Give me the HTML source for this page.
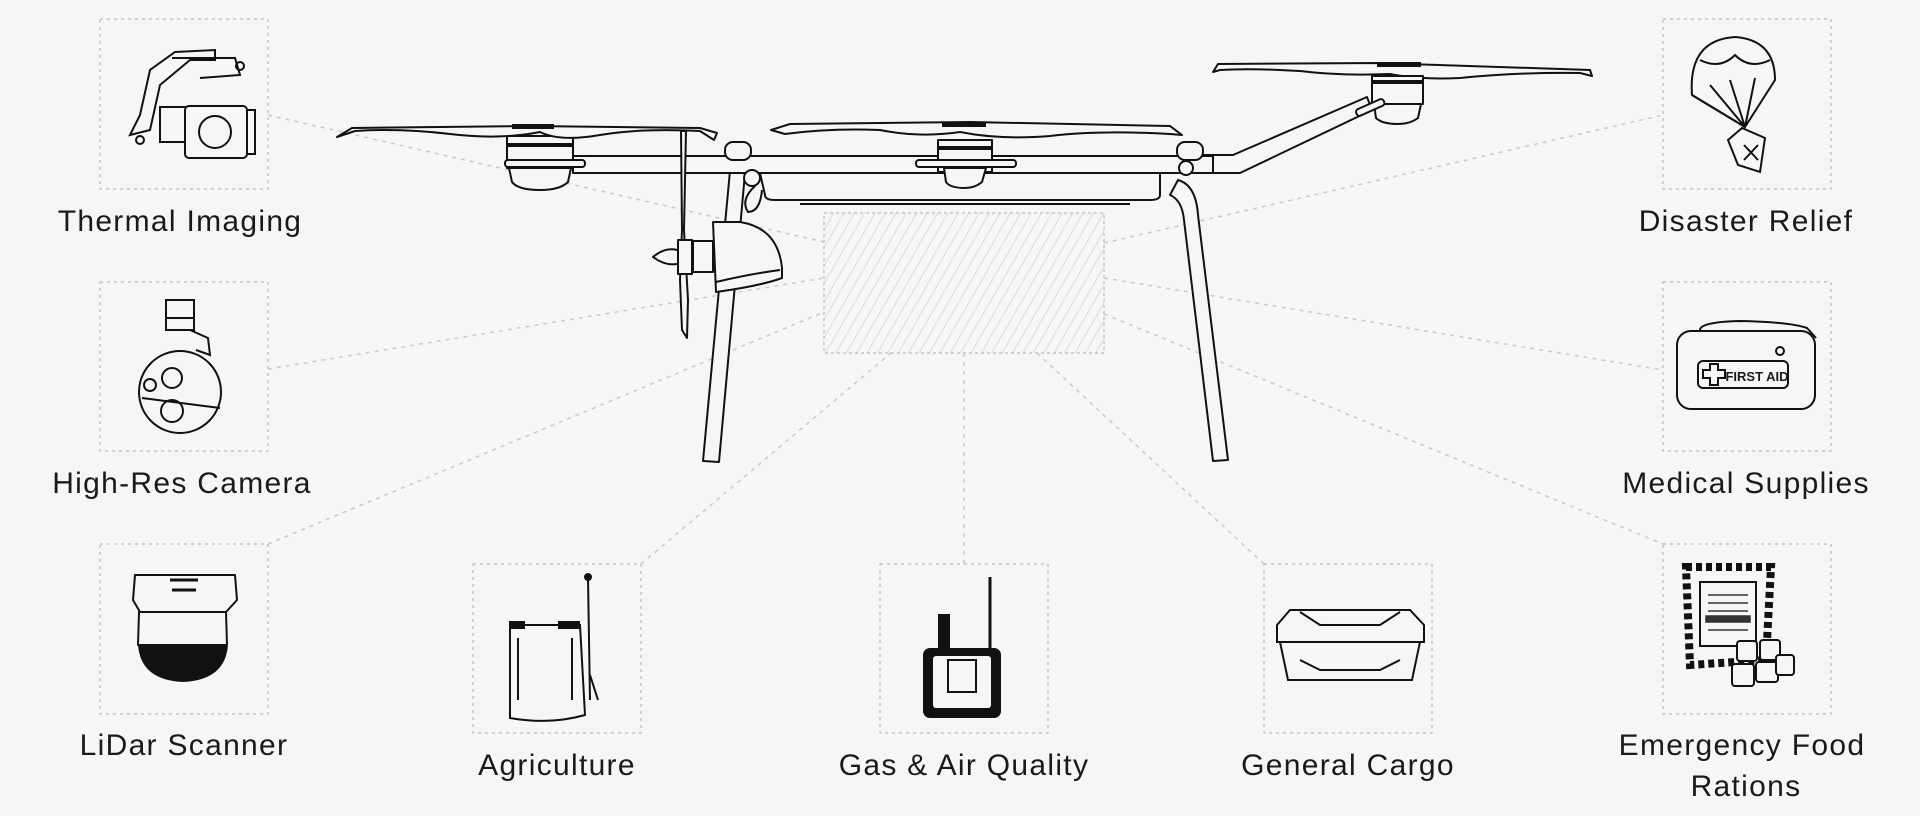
<!DOCTYPE html>
<html><head><meta charset="utf-8"><style>
html,body{margin:0;padding:0;background:#f5f6f7;}
svg{display:block}
text{font-family:"Liberation Sans",sans-serif;font-size:30px;letter-spacing:1.3px;fill:#1a1a1a;text-anchor:middle}
.box{fill:none;stroke:#c4c6c9;stroke-width:1.5;stroke-dasharray:3 4}
.con{stroke:#c8cacd;stroke-width:1.5;stroke-dasharray:4 5;fill:none}
.d{fill:#f5f6f7;stroke:#111;stroke-width:2;stroke-linejoin:round}
.t{fill:none;stroke:#111;stroke-width:2}
.k{fill:#111}
</style></head><body>
<svg width="1920" height="816" viewBox="0 0 1920 816">
<defs>
<pattern id="h" width="9" height="9" patternUnits="userSpaceOnUse" patternTransform="rotate(30)">
<line x1="0" y1="0" x2="0" y2="9" stroke="#d0d2d5" stroke-width="1.5"/>
</pattern>
</defs>
<line class="con" x1="268" y1="115" x2="824" y2="242"/>
<line class="con" x1="268" y1="369" x2="824" y2="278"/>
<line class="con" x1="268" y1="544" x2="824" y2="312"/>
<line class="con" x1="641" y1="564" x2="891" y2="353"/>
<line class="con" x1="964" y1="353" x2="964" y2="564"/>
<line class="con" x1="1264" y1="564" x2="1037" y2="353"/>
<line class="con" x1="1104" y1="243" x2="1663" y2="115"/>
<line class="con" x1="1104" y1="278" x2="1663" y2="370"/>
<line class="con" x1="1104" y1="314" x2="1663" y2="544"/>
<rect x="824" y="213" width="280" height="140" fill="url(#h)" stroke="#c4c6c9" stroke-width="1.5" stroke-dasharray="3 3"/>

<polygon class="d" points="731,160 746,162 719,462 703,461"/>
<path class="d" d="M1178,180 Q1196,185 1198,215 L1228,460 L1213,461 L1184,220 Q1182,200 1170,195 Z"/>
<polygon class="d" points="1195,155 1233,155 1367,97 1372,110 1240,173 1195,173"/>
<rect class="d" x="573" y="156" width="640" height="17"/>
<path class="d" d="M760,173 L1160,173 L1160,195 Q1160,200 1150,200 L775,200 Q765,200 765,195 Z"/>
<line class="t" x1="800" y1="204" x2="1130" y2="204"/>
<rect class="d" x="507" y="136" width="66" height="32"/>
<rect class="k" x="508" y="143" width="64" height="4"/>
<path class="d" d="M509,168 L571,168 L568,182 Q560,190 540,190 Q518,190 512,182 Z"/>
<rect class="d" x="505" y="160" width="80" height="7" rx="3"/>
<path class="d" d="M337,137 L352,128 L530,126 L700,128 L717,133 L714,140 L700,131 Q640,128 600,135 Q560,142 540,132 Q500,140 450,134 Q400,128 355,131 Z"/>
<rect class="k" x="512" y="124" width="42" height="5"/>
<path class="d" d="M771,130 L790,124 L970,122 L1170,126 L1182,135 L1170,134 Q1100,130 1050,136 Q1000,140 960,132 Q920,138 880,130 Q830,128 785,134 Z"/>
<rect class="k" x="942" y="122" width="44" height="5"/>
<rect class="d" x="938" y="140" width="54" height="32"/>
<rect class="k" x="939" y="146" width="52" height="4"/>
<rect class="d" x="916" y="160" width="100" height="7" rx="3"/>
<path class="d" d="M944,168 L986,168 L982,182 Q975,188 965,188 Q950,188 946,182 Z"/>
<path class="d" d="M1213,72 L1218,64 L1380,63 L1590,70 L1592,76 L1580,73 Q1520,72 1460,78 Q1420,80 1390,74 Q1340,76 1300,71 Q1250,68 1220,70 Z"/>
<rect class="k" x="1377" y="62" width="44" height="5"/>
<rect class="d" x="1372" y="76" width="51" height="28"/>
<rect class="k" x="1373" y="80" width="49" height="4"/>
<path class="d" d="M1374,104 L1421,104 L1418,118 Q1410,124 1398,124 Q1382,124 1376,118 Z"/>
<rect class="d" x="1355" y="104" width="30" height="7" rx="3" transform="rotate(-24 1370 107)"/>
<rect class="d" x="725" y="142" width="26" height="18" rx="8"/>
<rect class="d" x="1177" y="142" width="26" height="18" rx="8"/>
<circle class="d" cx="1186" cy="168" r="7"/>
<circle class="d" cx="752" cy="178" r="8"/>
<path class="t" d="M755,186 Q740,200 748,212 Q760,212 762,190"/>
<path class="d" d="M681,131 L686,131 L684,230 L688,300 L687,338 L682,330 L680,280 L682,230 Z"/>
<path class="d" d="M653,257 Q665,247 677,250 L693,250 L693,264 L677,264 Q665,266 653,257 Z"/>
<rect class="d" x="678" y="240" width="14" height="34"/>
<rect class="d" x="693" y="241" width="20" height="31"/>
<path class="d" d="M713,222 L740,222 Q778,228 782,268 L782,278 Q760,286 716,292 Z"/>
<path class="t" d="M716,282 Q750,274 780,270"/>

<rect class="box" x="100" y="19" width="168" height="170"/>
<g class="t">
<path d="M130,135 L140,115 L150,70 L175,52 L215,50 L215,60 L190,60 L160,85 L150,130 Z" fill="#f5f6f7"/>
<path d="M172,58 L235,58 L240,75 L200,78"/>
<circle cx="240" cy="66" r="4"/>
<rect x="160" y="107" width="30" height="35"/>
<rect x="185" y="106" width="62" height="52" rx="4" fill="#f5f6f7"/>
<circle cx="215" cy="132" r="16"/>
<rect x="247" y="110" width="8" height="44"/>
<circle cx="140" cy="140" r="4"/>
</g>
<text x="180" y="231">Thermal Imaging</text>

<rect class="box" x="100" y="282" width="168" height="169"/>
<g class="t">
<rect x="166" y="300" width="28" height="30" fill="#f5f6f7"/>
<line x1="166" y1="318" x2="194" y2="318"/>
<path d="M190,330 L208,338 L210,355 L196,350"/>
<circle cx="180" cy="392" r="41" fill="#f5f6f7"/>
<circle cx="172" cy="378" r="10"/>
<circle cx="172" cy="411" r="11"/>
<circle cx="150" cy="385" r="6"/>
<line x1="142" y1="398" x2="220" y2="408"/>
</g>
<text x="182" y="493">High-Res Camera</text>

<rect class="box" x="100" y="544" width="168" height="170"/>
<g>
<path class="d" d="M135,575 L235,575 L237,600 L226,612 L140,612 L133,600 Z"/>
<path class="d" d="M139,612 L226,612 L227,645 L138,645 Z"/>
<path class="k" d="M138,644 L228,644 Q226,680 183,682 Q140,680 138,644 Z"/>
<path d="M170,580 L198,580 M172,590 L196,590" stroke="#111" stroke-width="3"/>
</g>
<text x="184" y="755">LiDar Scanner</text>

<rect class="box" x="473" y="564" width="168" height="169"/>
<g class="t">
<path d="M510,625 L580,625 L585,715 Q550,725 510,718 Z" fill="#f5f6f7"/>
<rect x="510" y="622" width="14" height="6" class="k"/>
<rect x="559" y="622" width="20" height="6" class="k"/>
<line x1="518" y1="638" x2="518" y2="700"/>
<line x1="572" y1="638" x2="572" y2="700"/>
<line x1="588" y1="578" x2="590" y2="700"/>
<circle cx="588" cy="577" r="3" class="k"/>
<path d="M590,675 L598,700"/>
</g>
<text x="557" y="775">Agriculture</text>

<rect class="box" x="880" y="564" width="168" height="169"/>
<g>
<line x1="990" y1="577" x2="990" y2="652" stroke="#111" stroke-width="3"/>
<rect x="938" y="614" width="12" height="36" class="k"/>
<rect x="923" y="648" width="78" height="70" rx="7" class="k"/>
<rect x="933" y="656" width="58" height="52" rx="3" fill="#f5f6f7"/>
<rect x="948" y="660" width="28" height="32" fill="none" stroke="#111" stroke-width="2"/>
</g>
<text x="964" y="775">Gas &amp; Air Quality</text>

<rect class="box" x="1264" y="564" width="168" height="169"/>
<g class="t">
<path d="M1277,625 L1290,610 L1410,610 L1424,625 L1424,642 L1277,642 Z" fill="#f5f6f7"/>
<path d="M1300,612 L1320,625 L1380,625 L1400,612"/>
<path d="M1280,642 L1420,642 L1412,680 L1288,680 Z" fill="#f5f6f7"/>
<path d="M1300,660 L1320,670 L1380,670 L1400,660"/>
</g>
<text x="1348" y="775">General Cargo</text>

<rect class="box" x="1663" y="19" width="168" height="170"/>
<g class="t">
<path d="M1692,95 Q1688,40 1735,37 Q1775,40 1775,80 L1745,127 Z" fill="#f5f6f7"/>
<path d="M1692,95 L1745,127 M1710,85 L1745,127 M1730,80 L1745,127 M1755,78 L1745,127 M1700,60 Q1720,70 1735,55 Q1750,70 1770,60"/>
<path d="M1742,128 L1765,138 L1760,172 L1738,165 L1728,140 Z" fill="#f5f6f7"/>
<path d="M1744,145 L1758,160 M1758,145 L1744,160"/>
</g>
<text x="1746" y="231">Disaster Relief</text>

<rect class="box" x="1663" y="282" width="168" height="169"/>
<g>
<path class="t" d="M1700,330 Q1700,322 1740,321 Q1790,322 1807,328 L1816,338"/>
<rect class="d" x="1677" y="331" width="138" height="78" rx="14"/>
<rect class="d" x="1698" y="361" width="90" height="27" rx="5"/>
<path class="t" d="M1703,370 L1710,370 L1710,364 L1718,364 L1718,370 L1725,370 L1725,378 L1718,378 L1718,385 L1710,385 L1710,378 L1703,378 Z"/>
<text x="1757" y="381" style="font-size:13px;font-weight:bold;letter-spacing:0">FIRST AID</text>
<circle cx="1780" cy="351" r="4" class="t"/>
</g>
<text x="1746" y="493">Medical Supplies</text>

<rect class="box" x="1663" y="544" width="168" height="170"/>
<g>
<path d="M1686,567 L1771,567 L1766,660 L1690,665 Z" fill="#f5f6f7" stroke="#111" stroke-width="8" stroke-dasharray="6 4"/>
<rect x="1700" y="582" width="56" height="64" fill="#f5f6f7" stroke="#111" stroke-width="2"/>
<g stroke="#333" stroke-width="1.5"><line x1="1708" y1="595" x2="1748" y2="595"/><line x1="1708" y1="603" x2="1748" y2="603"/><line x1="1708" y1="611" x2="1748" y2="611"/><rect x="1706" y="616" width="44" height="6" fill="#333"/><line x1="1708" y1="630" x2="1748" y2="630"/></g>
<g class="d" stroke-width="1.5"><rect x="1737" y="641" width="20" height="20" rx="3"/><rect x="1760" y="640" width="20" height="20" rx="3"/><rect x="1732" y="664" width="22" height="22" rx="3"/><rect x="1756" y="662" width="22" height="20" rx="3"/><rect x="1776" y="655" width="18" height="20" rx="3"/></g>
</g>
<text x="1742" y="755">Emergency Food</text>
<text x="1746" y="796">Rations</text>
</svg>
</body></html>
